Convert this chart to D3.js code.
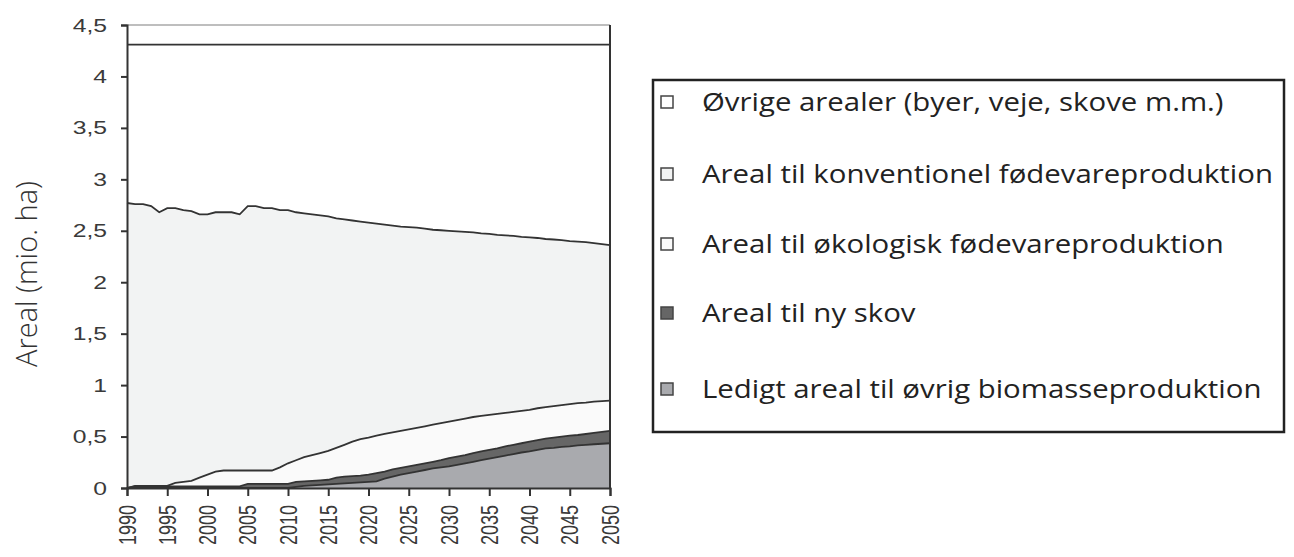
<!DOCTYPE html>
<html>
<head>
<meta charset="utf-8">
<script src="https://cdn.jsdelivr.net/npm/d3@7"></script>
<style>
  body { margin: 0; background: #fff; }
  svg { display: block; }
</style>
</head>
<body>
<div id="chart"></div>
<script>
// years 1990-2050, one value per year (mio. ha)
const years = d3.range(1990, 2051);

const ledigt = [
  0, 0, 0, 0, 0, 0, 0, 0, 0, 0,
  0, 0, 0, 0, 0, 0, 0, 0, 0, 0,
  0, 0.01, 0.02, 0.025, 0.03, 0.035, 0.04, 0.045, 0.05, 0.055,
  0.06, 0.065, 0.09, 0.11, 0.13, 0.145, 0.16, 0.175, 0.19, 0.2,
  0.21, 0.225, 0.24, 0.255, 0.27, 0.285, 0.3, 0.315, 0.33, 0.345,
  0.355, 0.37, 0.385, 0.39, 0.4, 0.405, 0.415, 0.42, 0.425, 0.43,
  0.435
];
const nySkov = [
  0, 0.015, 0.015, 0.015, 0.015, 0.015, 0.015, 0.015, 0.015, 0.015,
  0.015, 0.015, 0.015, 0.015, 0.015, 0.04, 0.04, 0.04, 0.04, 0.04,
  0.04, 0.05, 0.045, 0.045, 0.045, 0.045, 0.06, 0.065, 0.065, 0.065,
  0.07, 0.08, 0.07, 0.07, 0.065, 0.065, 0.065, 0.065, 0.065, 0.07,
  0.08, 0.08, 0.08, 0.085, 0.085, 0.085, 0.085, 0.09, 0.09, 0.09,
  0.095, 0.095, 0.095, 0.1, 0.1, 0.105, 0.1, 0.105, 0.11, 0.115,
  0.12
];
const oekologisk = [
  0, 0.005, 0.005, 0.005, 0.005, 0.005, 0.035, 0.045, 0.055, 0.085,
  0.115, 0.145, 0.155, 0.155, 0.155, 0.13, 0.13, 0.13, 0.13, 0.16,
  0.2, 0.21, 0.235, 0.25, 0.265, 0.28, 0.29, 0.31, 0.335, 0.355,
  0.36, 0.365, 0.365, 0.36, 0.36, 0.36, 0.36, 0.36, 0.36, 0.36,
  0.355, 0.355, 0.355, 0.35, 0.345, 0.34, 0.335, 0.325, 0.32, 0.315,
  0.31, 0.31, 0.305, 0.305, 0.305, 0.305, 0.31, 0.305, 0.305, 0.3,
  0.295
];
const konventionel = [
  2.77, 2.74, 2.74, 2.72, 2.66, 2.7, 2.67, 2.64, 2.62, 2.56,
  2.53, 2.52, 2.51, 2.51, 2.49, 2.57, 2.57, 2.55, 2.55, 2.5,
  2.46, 2.41, 2.37, 2.34, 2.31, 2.28, 2.23, 2.19, 2.15, 2.115,
  2.09, 2.06, 2.035, 2.01, 1.985, 1.965, 1.945, 1.92, 1.895, 1.875,
  1.855, 1.835, 1.815, 1.795, 1.775, 1.76, 1.74, 1.725, 1.71, 1.69,
  1.675, 1.655, 1.635, 1.62, 1.605, 1.585, 1.57, 1.56, 1.54, 1.525,
  1.51
];
const oevrige = [
  1.54, 1.55, 1.55, 1.57, 1.63, 1.59, 1.59, 1.61, 1.62, 1.65,
  1.65, 1.63, 1.63, 1.63, 1.65, 1.57, 1.57, 1.59, 1.59, 1.61,
  1.61, 1.63, 1.64, 1.65, 1.66, 1.67, 1.69, 1.7, 1.71, 1.72,
  1.73, 1.74, 1.75, 1.76, 1.77, 1.775, 1.78, 1.79, 1.8, 1.805,
  1.81, 1.815, 1.82, 1.825, 1.835, 1.84, 1.85, 1.855, 1.86, 1.87,
  1.875, 1.88, 1.89, 1.895, 1.9, 1.91, 1.915, 1.92, 1.93, 1.94,
  1.95
];

const seriesKeys = ["ledigt", "skov", "oeko", "konv", "oevrige"];
const seriesColors = ["#a9aaae", "#666666", "#fafafa", "#f2f3f3", "#ffffff"];
const legendLabels = [
  "Øvrige arealer (byer, veje, skove m.m.)",
  "Areal til konventionel fødevareproduktion",
  "Areal til økologisk fødevareproduktion",
  "Areal til ny skov",
  "Ledigt areal til øvrig biomasseproduktion"
];
const legendColors = ["#ffffff", "#f2f3f3", "#fafafa", "#666666", "#a9aaae"];
const yTicks = [0, 0.5, 1, 1.5, 2, 2.5, 3, 3.5, 4, 4.5];
const xTicks = d3.range(1990, 2051, 5);

const W = 1294, H = 557;
const stretch = 1.3; // the tick digits are drawn wide in the original

const table = years.map((yr, i) => ({
  year: yr,
  ledigt: ledigt[i],
  skov: nySkov[i],
  oeko: oekologisk[i],
  konv: konventionel[i],
  oevrige: oevrige[i]
}));

const svg = d3.select("#chart")
  .append("svg")
  .attr("width", W)
  .attr("height", H);

const x = d3.scaleLinear()
  .domain([1990, 2050])
  .range([127, 610]);

const y = d3.scaleLinear()
  .domain([0, 4.5])
  .range([488, 25]);

const stacked = d3.stack().keys(seriesKeys)(table);

const area = d3.area()
  .x(d => x(d.data.year))
  .y0(d => y(d[0]))
  .y1(d => y(d[1]));

const topLine = d3.line()
  .x(d => x(d.data.year))
  .y(d => y(d[1]));

svg.append("g")
  .selectAll("path")
  .data(stacked)
  .enter()
  .append("path")
  .attr("d", area)
  .attr("fill", (d, i) => seriesColors[i]);

svg.append("g")
  .selectAll("path")
  .data(stacked)
  .enter()
  .append("path")
  .attr("d", topLine)
  .attr("fill", "none")
  .attr("stroke", "#333")
  .attr("stroke-width", 1.8);

// plot frame: gray top, dark right
svg.append("line")
  .attr("x1", x(1990)).attr("x2", x(2050))
  .attr("y1", y(4.5)).attr("y2", y(4.5))
  .attr("stroke", "#a8a8a8").attr("stroke-width", 1.5);

svg.append("line")
  .attr("x1", x(2050)).attr("x2", x(2050))
  .attr("y1", y(4.5)).attr("y2", y(0))
  .attr("stroke", "#333").attr("stroke-width", 2);

// axes
const yAxis = svg.append("g")
  .attr("transform", "translate(" + x(1990) + ",0)")
  .call(d3.axisLeft(y)
    .tickValues(yTicks)
    .tickSize(6)
    .tickFormat(d => String(d).replace(".", ",")));

const xAxis = svg.append("g")
  .attr("transform", "translate(0," + y(0) + ")")
  .call(d3.axisBottom(x)
    .tickValues(xTicks)
    .tickSize(8)
    .tickFormat(d => String(d)));

[yAxis, xAxis].forEach(g => {
  g.select(".domain").attr("stroke", "#333").attr("stroke-width", 2);
  g.selectAll(".tick line").attr("stroke", "#333").attr("stroke-width", 2);
  g.selectAll("text")
    .style("font-family", "'Liberation Sans', Arial, sans-serif")
    .style("font-size", "19px")
    .attr("fill", "#3a3a3a");
});

yAxis.selectAll("text")
  .attr("x", -20 / stretch)
  .attr("transform", "scale(" + stretch + ",1)");

xAxis.selectAll("text")
  .attr("transform", "scale(" + stretch + ",1) rotate(-90)")
  .attr("x", -17)
  .attr("y", 0)
  .attr("dy", "0.35em")
  .style("font-size", "18px")
  .style("text-anchor", "end");

// y axis title
svg.append("text")
  .attr("transform", "translate(37,274) rotate(-90)")
  .attr("text-anchor", "middle")
  .style("font-family", "'Open Sans', sans-serif")
  .style("font-weight", "300")
  .style("font-size", "29px")
  .attr("fill", "#333")
  .text("Areal (mio. ha)");

// legend
const legend = svg.append("g");
legend.append("rect")
  .attr("x", 653).attr("y", 80)
  .attr("width", 631).attr("height", 352)
  .attr("fill", "none")
  .attr("stroke", "#222")
  .attr("stroke-width", 2.5);

const rowY = [102, 174, 244, 313, 389];

const rows = legend.selectAll("g.item")
  .data(legendLabels)
  .enter()
  .append("g")
  .attr("class", "item")
  .attr("transform", (d, i) => "translate(0," + rowY[i] + ")");

rows.append("rect")
  .attr("x", 661).attr("y", -6)
  .attr("width", 12).attr("height", 12)
  .attr("fill", (d, i) => legendColors[i])
  .attr("stroke", "#444")
  .attr("stroke-width", 1.5);

rows.append("text")
  .attr("transform", "translate(702,0) scale(1.13,1)")
  .attr("x", 0)
  .attr("y", 0)
  .attr("dy", "0.35em")
  .style("font-family", "'Open Sans', sans-serif")
  .style("font-size", "26px")
  .attr("fill", "#222")
  .text(d => d);
</script>
</body>
</html>
